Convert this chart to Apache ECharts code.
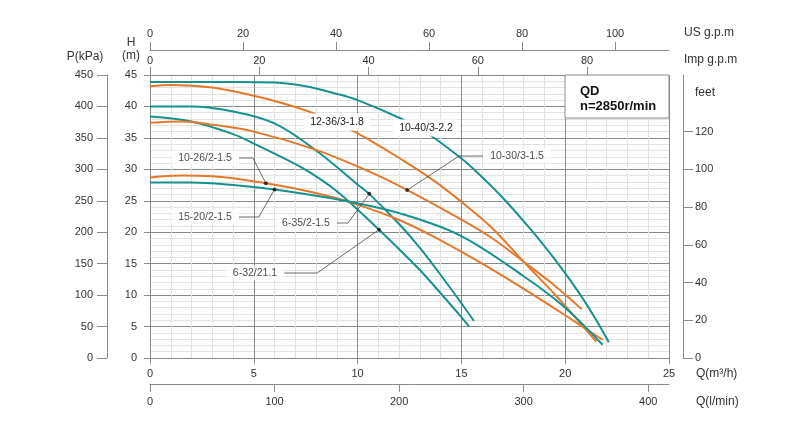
<!DOCTYPE html>
<html>
<head>
<meta charset="utf-8">
<script src="https://cdn.jsdelivr.net/npm/echarts@6/dist/echarts.min.js"></script>
<style>html,body{margin:0;padding:0;background:#fff}#c{width:800px;height:440px}</style>
</head>
<body>
<div id="c"></div>
<script>
// ---- data ----
const curveNames = ['10-40/3-2.2', '12-36/3-1.8', '6-35/2-1.5', '6-32/21.1', '10-30/3-1.5', '10-26/2-1.5', '15-20/2-1.5'];
const curveKinds = ['teal', 'orange', 'teal', 'teal', 'orange', 'orange', 'teal'];

const flow_10_40 = [0, 2, 4, 6, 7.5, 9, 10, 12, 13.2, 14.9, 15.6, 16.9, 18.4, 19.7, 20.7, 21.5, 22.1];
const head_10_40 = [43.9, 43.9, 43.9, 43.8, 43.2, 42.0, 41.0, 38.2, 36.1, 32.0, 30.0, 25.8, 20.2, 14.8, 10.2, 6.0, 2.5];

const flow_12_36 = [0, 1, 3, 5, 6.3, 7.9, 9.5, 10.6, 12.0, 13.5, 14.9, 16.5, 18.0, 19.5, 20.5, 21.5];
const head_12_36 = [43.2, 43.4, 43.0, 41.7, 40.6, 38.9, 36.6, 34.6, 31.8, 28.6, 25.1, 20.6, 15.3, 10.1, 6.4, 2.6];

const flow_6_35 = [0, 2, 4, 6, 8, 10, 10.56, 12, 13, 14, 15, 15.6];
const head_6_35 = [40.0, 40.0, 39.2, 37.3, 33.0, 27.6, 26.1, 21.3, 17.5, 13.2, 8.7, 5.9];

const flow_6_32 = [0, 2, 4, 5, 6, 7.5, 9, 11.03, 12, 13, 14, 15, 15.37];
const head_6_32 = [38.4, 37.6, 35.6, 34.1, 32.5, 29.9, 26.5, 20.4, 17.3, 14.0, 10.3, 6.5, 5.0];

const flow_10_30 = [0, 1.5, 3, 5, 8, 10.6, 12.4, 14.9, 16.5, 18, 19.5, 20.8];
const head_10_30 = [37.4, 37.6, 37.1, 36.0, 33.1, 29.6, 26.7, 22.2, 19.0, 15.3, 11.5, 7.75];

const flow_10_26 = [0, 1.5, 3, 5.58, 7.5, 9.47, 12.04, 14, 16, 18, 20, 21.8];
const head_10_26 = [28.7, 29.0, 28.9, 27.8, 26.6, 24.95, 21.9, 18.7, 15.0, 11.0, 6.8, 2.9];

const flow_15_20 = [0, 2, 4, 6, 8, 9.47, 12.04, 14.93, 18, 20, 21.8];
const head_15_20 = [27.9, 27.9, 27.5, 26.8, 25.8, 24.95, 23.0, 19.5, 13.0, 8.0, 2.1];

const curveFlows = [flow_10_40, flow_12_36, flow_6_35, flow_6_32, flow_10_30, flow_10_26, flow_15_20];
const curveHeads = [head_10_40, head_12_36, head_6_35, head_6_32, head_10_30, head_10_26, head_15_20];

// pointer-labelled points on curves
const dotNames = ['10-26/2-1.5', '15-20/2-1.5', '6-35/2-1.5', '6-32/21.1', '10-30/3-1.5'];
const dotFlow = [5.58, 6.0, 10.56, 11.03, 12.39];
const dotHead = [27.8, 26.8, 26.1, 20.4, 26.7];

// plain labels sitting on curves
const inlineNames = ['12-36/3-1.8', '10-40/3-2.2'];
const inlineFlow = [9.0, 13.3];
const inlineHead = [37.3, 36.0];

// axis ticks
const lminTicks = [0, 100, 200, 300, 400];
const impTicks = [0, 20, 40, 60, 80];
const usTicks = [0, 20, 40, 60, 80, 100];
const feetTicks = [0, 20, 40, 60, 80, 100, 120];

// ---- layout / style (not data) ----
const dotLabelPos = [[205, 158], [205, 217], [306, 223], [255, 273], [517, 156]];
const dotLeader = [14, 20, 11, 33, 24];
const inlineLabelPos = [[337, 122], [426, 128]];
const colors = { teal: '#16918d', orange: '#e5792b' };
const FONT = '"Liberation Sans", Arial, Helvetica, sans-serif';
const AX = '#8a8a8a';
const MINOR = '#e2e2e2';

const chart = echarts.init(document.getElementById('c'));

const series = curveNames.map((n, i) => ({
  name: n,
  type: 'line',
  xAxisIndex: 0, yAxisIndex: 0,
  showSymbol: false,
  smooth: 0.35,
  lineStyle: { color: colors[curveKinds[i]], width: 2 },
  itemStyle: { color: colors[curveKinds[i]] },
  data: curveFlows[i].map((q, k) => [q, curveHeads[i][k]]),
  silent: true,
  z: 3
}));

series.push({
  type: 'scatter', xAxisIndex: 0, yAxisIndex: 0, z: 6, silent: true,
  symbol: 'circle', symbolSize: 4,
  itemStyle: { color: '#111' },
  data: dotFlow.map((q, i) => ({
    value: [q, dotHead[i]], name: dotNames[i],
    labelLine: { show: true, length2: dotLeader[i], lineStyle: { color: '#444', width: 0.8 } }
  })),
  label: { show: true, formatter: '{b}', color: '#222', fontSize: 10.5, fontFamily: FONT,
           backgroundColor: '#fff', padding: [2, 7] },
  labelLine: { show: true, lineStyle: { color: '#444', width: 0.8 } },
  labelLayout: p => ({ x: dotLabelPos[p.dataIndex][0], y: dotLabelPos[p.dataIndex][1],
                       align: 'center', verticalAlign: 'middle' })
});

series.push({
  type: 'scatter', xAxisIndex: 0, yAxisIndex: 0, z: 7, silent: true,
  symbol: 'circle', symbolSize: 1, itemStyle: { color: 'rgba(0,0,0,0)' },
  data: inlineFlow.map((q, i) => ({ value: [q, inlineHead[i]], name: inlineNames[i] })),
  label: { show: true, formatter: '{b}', color: '#222', fontSize: 10.5, fontFamily: FONT,
           backgroundColor: '#fff', padding: [3, 6], opacity: 1 },
  labelLayout: p => ({ x: inlineLabelPos[p.dataIndex][0], y: inlineLabelPos[p.dataIndex][1],
                       align: 'center', verticalAlign: 'middle' })
});

const lbl = { color: '#333', fontSize: 11, fontFamily: FONT };

const option = {
  animation: false,
  textStyle: { fontFamily: FONT },
  grid: { left: 150, right: 131, top: 75, bottom: 82, containLabel: false },
  xAxis: [
    { type: 'value', min: 0, max: 25, interval: 5, position: 'bottom', z: 2,
      axisLine: { show: true, onZero: false, lineStyle: { color: AX } },
      axisTick: { show: true, length: 6, lineStyle: { color: AX } },
      axisLabel: Object.assign({ margin: 10 }, lbl),
      splitLine: { show: true, lineStyle: { color: AX, width: 1 } },
      minorTick: { show: false, splitNumber: 5 },
      minorSplitLine: { show: true, lineStyle: { color: MINOR, width: 1 } } },
    { type: 'value', min: 0, max: 25 * 1000 / 60, position: 'bottom', offset: 26, z: 2,
      axisLine: { show: true, onZero: false, lineStyle: { color: AX } },
      axisTick: { show: true, length: 8, customValues: lminTicks, lineStyle: { color: AX } },
      axisLabel: Object.assign({ margin: 12, customValues: lminTicks }, lbl),
      splitLine: { show: false } },
    { type: 'value', min: 0, max: 95, position: 'top', offset: 0, z: 2,
      axisLine: { show: true, onZero: false, lineStyle: { color: AX } },
      axisTick: { show: true, length: 8, customValues: impTicks, lineStyle: { color: AX } },
      axisLabel: Object.assign({ margin: 9, customValues: impTicks }, lbl),
      splitLine: { show: false } },
    { type: 'value', min: 0, max: 111.6, position: 'top', offset: 25, z: 2,
      axisLine: { show: true, onZero: false, lineStyle: { color: AX } },
      axisTick: { show: true, length: 8, customValues: usTicks, lineStyle: { color: AX } },
      axisLabel: Object.assign({ margin: 11, customValues: usTicks }, lbl),
      splitLine: { show: false } }
  ],
  yAxis: [
    { type: 'value', min: 0, max: 45, interval: 5, position: 'left', z: 2,
      axisLine: { show: true, onZero: false, lineStyle: { color: AX } },
      axisTick: { show: true, length: 6, lineStyle: { color: AX } },
      axisLabel: Object.assign({ margin: 13 }, lbl),
      splitLine: { show: true, lineStyle: { color: AX, width: 1 } },
      minorTick: { show: false, splitNumber: 5 },
      minorSplitLine: { show: true, lineStyle: { color: MINOR, width: 1 } } },
    { type: 'value', min: 0, max: 450, interval: 50, position: 'left', offset: 43, z: 2,
      axisLine: { show: true, onZero: false, lineStyle: { color: AX } },
      axisTick: { show: true, length: 10, lineStyle: { color: AX } },
      axisLabel: Object.assign({ margin: 14 }, lbl),
      splitLine: { show: false } },
    { type: 'value', min: 0, max: 150, position: 'right', offset: 14, z: 2,
      axisLine: { show: true, onZero: false, lineStyle: { color: AX } },
      axisTick: { show: true, length: 10, customValues: feetTicks, lineStyle: { color: AX } },
      axisLabel: Object.assign({ margin: 12, customValues: feetTicks }, lbl),
      splitLine: { show: false } }
  ],
  series: series,
  graphic: [
    { type: 'rect', shape: { x: 565, y: 75, width: 104, height: 43 },
      style: { fill: '#fff', stroke: AX, lineWidth: 1 }, z: 50 },
    { type: 'text', x: 580, y: 91, z: 51,
      style: { text: 'QD', fill: '#111', font: 'bold 13px ' + FONT, align: 'left', verticalAlign: 'middle' } },
    { type: 'text', x: 580, y: 106, z: 51,
      style: { text: 'n=2850r/min', fill: '#111', font: 'bold 13px ' + FONT, align: 'left', verticalAlign: 'middle' } },
    { type: 'text', x: 85, y: 57, z: 51,
      style: { text: 'P(kPa)', fill: '#333', font: '12px ' + FONT, align: 'center', verticalAlign: 'middle' } },
    { type: 'text', x: 131, y: 43, z: 51,
      style: { text: 'H', fill: '#333', font: '12px ' + FONT, align: 'center', verticalAlign: 'middle' } },
    { type: 'text', x: 131, y: 56, z: 51,
      style: { text: '(m)', fill: '#333', font: '12px ' + FONT, align: 'center', verticalAlign: 'middle' } },
    { type: 'text', x: 684, y: 33, z: 51,
      style: { text: 'US g.p.m', fill: '#333', font: '12px ' + FONT, align: 'left', verticalAlign: 'middle' } },
    { type: 'text', x: 684, y: 60, z: 51,
      style: { text: 'Imp g.p.m', fill: '#333', font: '12px ' + FONT, align: 'left', verticalAlign: 'middle' } },
    { type: 'text', x: 695, y: 93, z: 51,
      style: { text: 'feet', fill: '#333', font: '12px ' + FONT, align: 'left', verticalAlign: 'middle' } },
    { type: 'text', x: 696, y: 374, z: 51,
      style: { text: 'Q(m³/h)', fill: '#333', font: '12px ' + FONT, align: 'left', verticalAlign: 'middle' } },
    { type: 'text', x: 696, y: 402, z: 51,
      style: { text: 'Q(l/min)', fill: '#333', font: '12px ' + FONT, align: 'left', verticalAlign: 'middle' } }
  ]
};
chart.setOption(option);
</script>
</body>
</html>
